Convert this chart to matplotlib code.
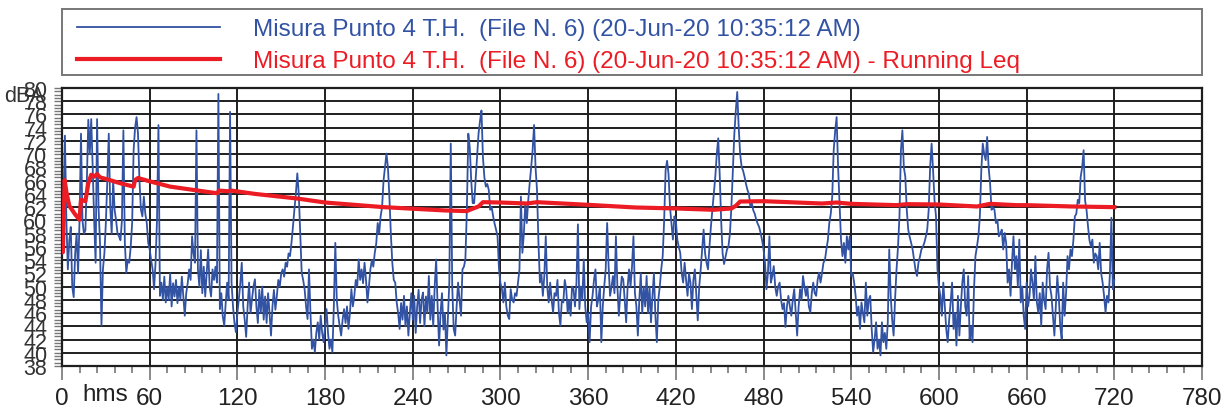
import numpy as np
import matplotlib.pyplot as plt
from matplotlib.patches import Rectangle
from matplotlib.ticker import MultipleLocator

plt.rcParams['font.family'] = ['Liberation Sans', 'DejaVu Sans']

# sound level, one value per second (dBA), t = 0 .. 720 s
levels = [
    55, 63, 72.8, 60, 52.6, 57, 59, 50, 48.4, 55, 58, 52, 60, 73.1, 60, 58, 58.5, 66, 75.2, 70,
    75.3, 68, 60, 53.6, 75.3, 62, 56.6, 44.1, 52.6, 55, 59.6, 66, 73.1, 62, 58, 66.1, 61.6, 60, 58, 57.6,
    57, 60, 73.6, 56.6, 52.1, 54, 53.6, 56, 59.6, 70.6, 74, 75.6, 73.1, 66, 61.6, 60.6, 63.6, 61, 59.6, 56.6,
    55.6, 54, 52.6, 49.6, 53.6, 60, 74.4, 48.6, 50.6, 48, 51.5, 47.6, 50, 48, 52, 47, 50.5, 48.5, 51, 47.5,
    50, 48, 51.5, 48.5, 45.6, 49, 50.5, 52.6, 51, 57.6, 55, 53.6, 73.6, 52.6, 50, 55.5, 49, 53, 48.5, 52,
    55.6, 50, 48.5, 52.6, 51, 53, 50.6, 79.1, 46.6, 49, 45.5, 44.1, 47.5, 50.6, 48, 76.4, 50.6, 47, 44.5, 43.1,
    46, 48.1, 50.5, 53.6, 47, 45, 42.4, 47, 50.6, 46, 48.1, 50, 51.1, 47, 44.5, 49.5, 46, 50, 45, 48.5,
    44.5, 49, 46, 42.6, 47, 49.5, 46.5, 48.6, 51, 50, 52, 52.6, 51.5, 53.6, 53, 55, 54.6, 56.6, 59, 61.6,
    64, 67.1, 64, 58, 52.1, 51, 49.6, 47, 45.1, 52.6, 46, 40.6, 42, 40.1, 43, 44.6, 42, 45.6, 43, 41.6,
    44, 46.6, 43, 40.6, 42, 40.1, 47, 56.6, 48, 45.6, 44, 42.6, 45, 46.6, 44.5, 47, 43.6, 46, 49.6, 47,
    48.6, 51, 50, 54.1, 51, 52.6, 50.5, 53.6, 51, 47.6, 50, 52.6, 54, 53, 55.1, 56.5, 59.6, 58, 60.6, 62,
    66, 68.1, 70.1, 68, 63.6, 58, 53.6, 51, 50.6, 47.6, 46, 43.6, 47.5, 45, 48.6, 44, 47, 42.6, 46, 49,
    45, 48.6, 43, 47, 49.5, 44.5, 48, 49.1, 44, 48.5, 46, 51.6, 45, 48.6, 44, 50, 54.1, 47, 41.1, 46,
    49, 43.5, 46, 39.6, 45, 50.6, 71.6, 50, 43.6, 42.6, 47, 50.6, 48, 45.6, 52.6, 53, 54.1, 61.6, 73.1, 71,
    66, 62.6, 62.6, 66, 69.6, 73.1, 75, 76.6, 69.6, 66.5, 65.1, 65.5, 64.6, 61.6, 62, 60.6, 59.5, 58.6, 57.6, 52.6,
    50.5, 49.6, 47.6, 50.6, 47, 45.6, 45.1, 49.6, 48, 47.6, 49, 48.6, 50.6, 52.6, 63.6, 55.1, 58, 62.6, 59.6, 63,
    65.6, 68, 70.6, 74.4, 68, 64.6, 56.6, 50.6, 52, 48.6, 51.6, 57.6, 50, 47.6, 50.6, 48, 46.1, 49, 48.6, 51,
    46, 44.1, 48, 47.6, 51, 49.6, 46, 48, 45.6, 50, 49.6, 47, 50.6, 59.4, 46.6, 50, 48, 54.1, 47, 44.6,
    46, 41.6, 47, 48.6, 51, 52.6, 47, 48.1, 50, 41.6, 47, 50, 52.6, 59.6, 53, 48.6, 50, 51.6, 49, 57.6,
    50, 45.6, 49, 51.5, 51.1, 48, 44.6, 50, 52.6, 50, 53, 57.6, 49, 47, 42.6, 48, 52, 46, 50, 47,
    51.6, 46, 50, 44.6, 48.6, 52, 45.6, 41.6, 48, 50, 52.6, 54.6, 60, 67.6, 69, 67, 62, 59.6, 57.1, 60.6,
    60, 57.1, 56, 55.1, 52, 50.6, 53.6, 51, 48.6, 52, 50.6, 46.6, 51, 52.6, 48.6, 44.9, 50, 52.6, 55.6, 58.6,
    55, 53.6, 52.6, 56, 59.1, 61.6, 64, 66.6, 70, 72.4, 67, 60, 55, 53.4, 54.5, 55.6, 56.1, 58, 62, 67.6,
    73, 76.5, 79.4, 74.1, 70, 68.1, 67.5, 66.6, 65.5, 64.6, 64, 62.1, 62.6, 61.5, 61, 60.1, 59.5, 59, 58.1, 57,
    55.6, 53.6, 49.6, 52, 57.6, 50.6, 51.6, 53.1, 50, 48.6, 50, 50.6, 48, 46.6, 47.5, 43.9, 47, 48.6, 47, 45.6,
    48, 49.6, 46, 42.6, 47, 49.6, 48, 51.6, 50, 48.6, 50, 47, 46.1, 49, 50.6, 49, 48.6, 51, 52.1, 50.6,
    52, 53.6, 54, 55.6, 57, 59.6, 61, 63.6, 70.6, 73.5, 75.6, 68.1, 62.6, 57.1, 54.6, 56.6, 53.6, 57.6, 55.6, 57.6,
    51.6, 52, 50.6, 48.6, 45.6, 47, 43.6, 47.6, 46, 44.6, 50.6, 45.6, 48, 48.6, 43.6, 40.1, 42, 44.6, 40.6, 42,
    39.6, 44.6, 41.6, 43, 40.6, 44.6, 55.6, 48.6, 45, 42.6, 48.1, 52.6, 56, 60.6, 70.6, 73.6, 68, 66.6, 61.6, 58.6,
    57.5, 56.6, 55.6, 54.1, 52.5, 51.6, 53.6, 54.5, 55.6, 56, 56.6, 57.5, 58.6, 61.6, 68.1, 71.6, 67.6, 63, 60.6, 52.6,
    50, 48.6, 45.6, 50.6, 47, 43.6, 41.6, 45, 47.6, 50.6, 43.6, 46, 41.1, 48.6, 42.6, 47, 50.6, 52.6, 47, 45.6,
    51.6, 42.1, 44, 41.6, 49.6, 54.6, 56, 57.6, 60.6, 67.6, 71.6, 70, 69.1, 72.6, 68, 65.6, 61.6, 62, 61.6, 59.6,
    60.1, 57.6, 58, 58.6, 55.6, 58.1, 56.6, 50.6, 52.6, 48.6, 53.6, 57.6, 52.6, 54.6, 50, 57.1, 47.6, 50, 45.6, 43.6,
    50.6, 47, 48.6, 52.6, 50.6, 48, 54.6, 47.6, 46.1, 49, 44.1, 50.6, 48, 46.6, 52.6, 55.1, 50, 48.6, 45.6, 42.6,
    47, 51.6, 48.6, 44, 42.1, 50.6, 45.6, 49, 54.6, 52.6, 55.6, 54.6, 57, 60.6, 61, 63.1, 62.6, 66.6, 68, 70.6,
    63, 61.6, 59.1, 57, 56.1, 57.1, 53.6, 55, 54.6, 52.6, 56.6, 52, 50.6, 48.6, 46.1, 48.6, 47.6, 52, 60.4, 49.6,
    51,
]
times = np.arange(len(levels))

# running Leq
leq_t = [0, 0.6, 1.8, 3, 5, 9, 12, 13, 16, 18, 20, 22, 24, 26, 31, 40, 49, 50, 52, 60,
         74, 90, 106, 107.5, 114, 116, 132, 161, 180, 220, 262, 277, 279, 285, 288, 300,
         318, 325, 360, 392, 420, 446, 458, 461, 464, 480, 520, 530, 540, 571, 578, 600,
         626, 635, 653, 660, 691, 720]
leq_v = [58.2, 55.2, 66.1, 64.3, 62.2, 60.9, 60.1, 63.1, 62.9, 65.6, 66.9, 66.6, 67.0, 66.5,
         66.2, 65.6, 65.1, 66.1, 66.4, 65.9, 65.1, 64.6, 64.1, 64.5, 64.4, 64.5, 64.0, 63.3,
         62.7, 62.0, 61.5, 61.4, 61.6, 62.1, 62.75, 62.7, 62.55, 62.75, 62.35, 61.95, 61.8,
         61.6, 61.8, 62.2, 62.85, 62.9, 62.55, 62.7, 62.5, 62.3, 62.45, 62.4, 62.1, 62.5,
         62.3, 62.3, 62.1, 62.0]

label_meas = 'Misura Punto 4 T.H.  (File N. 6) (20-Jun-20 10:35:12 AM)'
label_leq = label_meas + ' - Running Leq'

blue = '#3252a3'
red = '#ec1c24'

fig = plt.figure(figsize=(12.27, 4.10), dpi=100)
ax = fig.add_axes([62 / 1227, 1 - 367 / 410, 1140 / 1227, 278 / 410])

l1, = ax.plot(times, levels, color=blue, lw=1.3, zorder=3)
l2, = ax.plot(leq_t, leq_v, color=red, lw=3, zorder=4, solid_joinstyle='round')

ax.set_xlim(0, 780)
ax.set_ylim(38, 80)
ax.xaxis.set_major_locator(MultipleLocator(60))
ax.xaxis.set_minor_locator(MultipleLocator(12))
ax.yaxis.set_major_locator(MultipleLocator(2))
ax.yaxis.set_minor_locator(MultipleLocator(0.5))
ax.grid(True, which='major', color='#1e1e1e', lw=1.4, zorder=1)
for s in ax.spines.values():
    s.set_color('#1e1e1e')
    s.set_linewidth(1.6)

ax.tick_params(axis='x', which='major', length=10, width=1.2, color='#777777',
               labelsize=17.5, pad=5, labelcolor='#222222')
ax.tick_params(axis='x', which='minor', length=5, width=1.2, color='#777777')
ax.tick_params(axis='y', which='both', length=6, width=1.0, color='#777777',
               labelsize=15.5, pad=4.5, labelcolor='#333333')

ax.annotate('hms', xy=(29.5, 0), xycoords=('data', 'axes fraction'),
            xytext=(0, -12.5), textcoords='offset points', ha='center', va='top',
            fontsize=17.5, color='#222222')
fig.text(4 / 1227, 1 - 97 / 410, 'dBA', ha='left', va='center', fontsize=15.5, color='#333333')

# legend box above the plot
fig.patches.append(Rectangle((62 / 1227, 1 - 76 / 410), 1140 / 1227, 66 / 410,
                             transform=fig.transFigure, fill=False, ec='#777777', lw=1.4))
leg = fig.legend([l1, l2], [label_meas, label_leq], loc='upper left',
                 bbox_to_anchor=(77 / 1227, 1 - 19 / 410), frameon=False,
                 fontsize=17.5, handlelength=5.9, handletextpad=1.35,
                 labelspacing=0.42, borderpad=0, borderaxespad=0)
leg.get_texts()[0].set_color(blue)
leg.get_texts()[1].set_color(red)

fig.savefig('out.png', dpi=100)
